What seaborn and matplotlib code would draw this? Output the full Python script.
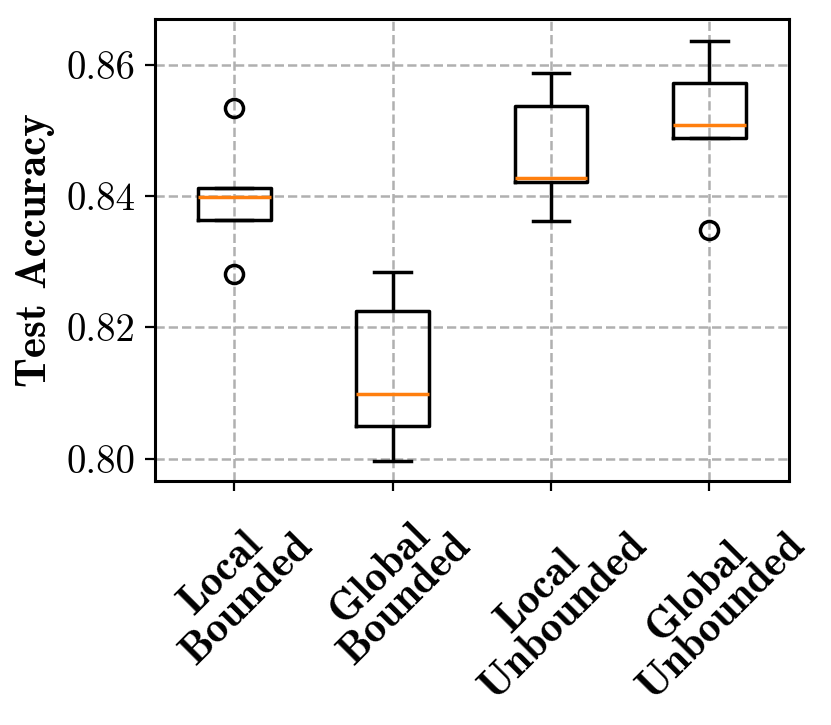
import numpy as np
import matplotlib
matplotlib.use('Agg')
import matplotlib.pyplot as plt
import pandas as pd
import seaborn as sns

# test accuracy per run
methods = ['Local\nBounded', 'Global\nBounded', 'Local\nUnbounded', 'Global\nUnbounded']
local_bounded = [0.8282, 0.8363, 0.8398, 0.8413, 0.8535]
global_bounded = [0.7996, 0.8050, 0.8099, 0.8225, 0.8284]
local_unbounded = [0.8362, 0.8422, 0.8428, 0.8537, 0.8588]
global_unbounded = [0.8348, 0.8488, 0.8508, 0.8572, 0.8637]
yticks = [0.80, 0.82, 0.84, 0.86]

df = pd.DataFrame({
    'method': np.repeat(methods, 5),
    'acc': local_bounded + global_bounded + local_unbounded + global_unbounded,
})

plt.rcParams['font.family'] = ['cmr10', 'DejaVu Serif']
plt.rcParams['axes.formatter.use_mathtext'] = True
plt.rcParams['axes.linewidth'] = 1.1
bold = ['cmb10', 'DejaVu Serif']

fig = plt.figure(figsize=(4.155, 3.625), dpi=200)
ax = fig.add_axes([0.1865, 0.3366, 0.7625, 0.6372])

sns.boxplot(data=df, x='method', y='acc', ax=ax, order=methods,
            width=0.46, fill=False, color='black', linewidth=1.25,
            medianprops={'color': '#ff7f0e', 'linewidth': 1.25},
            whiskerprops={'color': 'black'},
            capprops={'color': 'black'},
            boxprops={'color': 'black'},
            flierprops={'marker': 'o', 'markerfacecolor': 'none',
                        'markeredgecolor': 'black', 'markersize': 6.5,
                        'markeredgewidth': 1.25})

ax.grid(True, linestyle='--', color='#b0b0b0', linewidth=0.9)
ax.set_axisbelow(True)
ax.set_yticks(yticks)
ax.set_yticklabels([f'{t:.2f}' for t in yticks], fontsize=14)
ax.set_xticks(range(len(methods)))
ax.set_xticklabels(methods, rotation=45, ha='center', fontsize=15.5,
                   family=bold, linespacing=0.9)
ax.set_xlabel('')
ax.set_ylabel('Test Accuracy', fontsize=15.5, family=bold)
ax.set_ylim(0.7966, 0.8670)
ax.set_xlim(-0.5, 3.5)

fig.savefig('out.png', dpi=200)
